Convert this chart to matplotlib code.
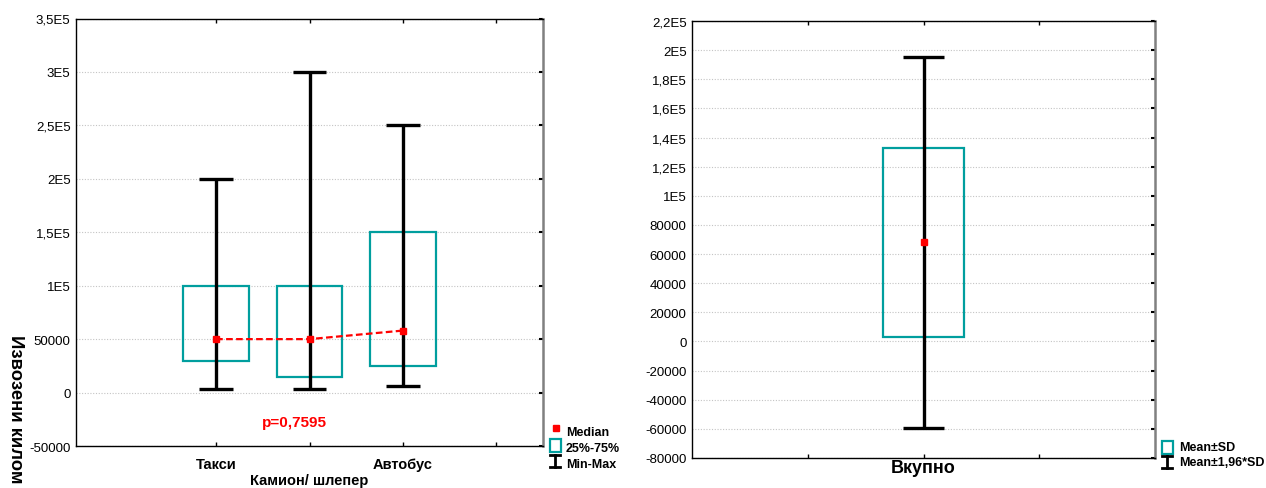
import matplotlib
matplotlib.use("Agg")
import matplotlib.pyplot as plt
from matplotlib.lines import Line2D
from matplotlib.patches import Rectangle
from matplotlib.ticker import FuncFormatter, FixedLocator
import numpy as np

plt.rcParams["font.family"] = ["Liberation Sans", "DejaVu Sans"]

# left panel: min / quartiles / median / max per vehicle type
categories = ["Такси", "Камион/ шлепер", "Автобус"]
mins = [3000, 3000, 6000]
q1 = [30000, 15000, 25000]
medians = [50000, 50000, 58000]
q3 = [100000, 100000, 150000]
maxs = [200000, 300000, 250000]
p_text = "p=0,7595"

# right panel: overall mean and SD
total_label = "Вкупно"
total_mean = 68000
total_sd = 65000

TEAL = "#009e9e"
RED = "#ff0000"
W, H = 1266, 489


def fx(px):
    return px / W


def fy(py):
    return 1 - py / H


def stat_fmt(v, pos=None):
    if abs(v) >= 99999:
        s = ("%.1f" % (v / 1e5)).rstrip("0").rstrip(".")
        return s.replace(".", ",") + "E5"
    return "%d" % round(v)


def style(ax):
    for s in ["left", "bottom", "top"]:
        ax.spines[s].set_color("black")
        ax.spines[s].set_linewidth(1.0)
    ax.spines["right"].set_color("#808080")
    ax.spines["right"].set_linewidth(1.8)
    ax.tick_params(axis="x", direction="in", top=True, bottom=True,
                   length=3, width=1)
    ax.tick_params(axis="y", direction="in", left=False, right=True,
                   length=3, width=1.5, labelsize=9.5, pad=4)
    ax.yaxis.set_major_formatter(FuncFormatter(stat_fmt))
    ax.yaxis.grid(True, linestyle=(0, (1, 1.5)), color="#c4c4c4", lw=0.8)
    ax.set_axisbelow(True)


fig = plt.figure(figsize=(12.66, 4.89), dpi=100)

# ---- left panel
ax1 = fig.add_axes([fx(76), fy(447), fx(543) - fx(76), fy(19.5) - fy(447)])
style(ax1)
pos = np.arange(1, len(categories) + 1)
q1a, q3a = np.array(q1), np.array(q3)
ax1.bar(pos, q3a - q1a, bottom=q1a, width=0.7, fill=False,
        edgecolor=TEAL, linewidth=1.6, zorder=2)
ax1.vlines(pos, mins, maxs, color="black", lw=2.4, zorder=3)
ax1.hlines(mins, pos - 0.18, pos + 0.18, color="black", lw=2.4, zorder=3)
ax1.hlines(maxs, pos - 0.18, pos + 0.18, color="black", lw=2.4, zorder=3)
ax1.plot(pos, medians, color=RED, lw=1.6, ls=(0, (3, 1.5)), zorder=4)
ax1.plot(pos, medians, "s", color=RED, ms=5, zorder=5)
ax1.set_xlim(0.5 - 1, len(categories) + 1.5)
ax1.set_ylim(-50000, 350000)
ax1.yaxis.set_major_locator(FixedLocator(np.arange(-50000, 350001, 50000)))
ax1.set_xticks(list(pos) + [len(categories) + 1])
ax1.set_xticklabels([c if i % 2 == 0 else "" for i, c in enumerate(categories)] + [""],
                    fontsize=10.5, fontweight="bold")
ax1.tick_params(axis="x", pad=8)
for i, c in enumerate(categories):
    if i % 2 == 1:
        ax1.annotate(c, xy=(pos[i], 0), xycoords=("data", "axes fraction"),
                     xytext=(0, -34), textcoords="offset pixels",
                     ha="center", va="center", fontsize=10.5, fontweight="bold")
ax1.text(1.84, -27500, p_text, ha="center", va="center", color=RED,
         fontsize=11, fontweight="bold")

fig.text(fx(15), fy(335), "Извозени килом", rotation=270, ha="center", va="top",
         fontsize=13.3, fontweight="bold")

# ---- right panel
ax2 = fig.add_axes([fx(692), fy(459), fx(1155) - fx(692), fy(22) - fy(459)])
style(ax2)
lo1, hi1 = total_mean - total_sd, total_mean + total_sd
lo2, hi2 = total_mean - 1.96 * total_sd, total_mean + 1.96 * total_sd
ax2.bar([0], [hi1 - lo1], bottom=[lo1], width=0.7, fill=False,
        edgecolor=TEAL, linewidth=1.6, zorder=2)
ax2.vlines([0], [lo2], [hi2], color="black", lw=2.4, zorder=3)
ax2.hlines([lo2, hi2], -0.18, 0.18, color="black", lw=2.4, zorder=3)
ax2.plot([0], [total_mean], "s", color=RED, ms=5, zorder=5)
ax2.set_xlim(-2, 2)
ax2.set_ylim(-80000, 220000)
ax2.yaxis.set_major_locator(FixedLocator(np.arange(-80000, 220001, 20000)))
ax2.set_xticks([-1, 0, 1])
ax2.set_xticklabels(["", total_label, ""], fontsize=13, fontweight="bold")
ax2.tick_params(axis="x", pad=1)


# ---- legends (figure pixel coords)
def legend_text(x, y, s):
    fig.text(fx(x), fy(y), s, ha="left", va="center", fontsize=9,
             fontweight="bold")


def legend_box(x, y):
    fig.add_artist(Rectangle((fx(x - 5.5), fy(y + 6.5)), fx(11), 13 / H,
                             fill=False, edgecolor=TEAL, lw=1.6,
                             transform=fig.transFigure))


def legend_bar(x, y):
    kw = dict(color="black", lw=2, transform=fig.transFigure)
    fig.add_artist(Line2D([fx(x), fx(x)], [fy(y - 6), fy(y + 6)], **kw))
    fig.add_artist(Line2D([fx(x - 5), fx(x + 5)], [fy(y - 6), fy(y - 6)], **kw))
    fig.add_artist(Line2D([fx(x - 5), fx(x + 5)], [fy(y + 6), fy(y + 6)], **kw))


fig.add_artist(Line2D([fx(556)], [fy(429)], marker="s", ms=4.5, color=RED,
                      transform=fig.transFigure))
legend_text(566, 433, "Median")
legend_box(555, 446)
legend_text(566, 449, "25%-75%")
legend_bar(555, 462)
legend_text(566, 465, "Min-Max")

legend_box(1167, 448)
legend_text(1179, 448, "Mean±SD")
legend_bar(1167, 463)
legend_text(1179, 463, "Mean±1,96*SD")

fig.savefig("out.png", dpi=100)
